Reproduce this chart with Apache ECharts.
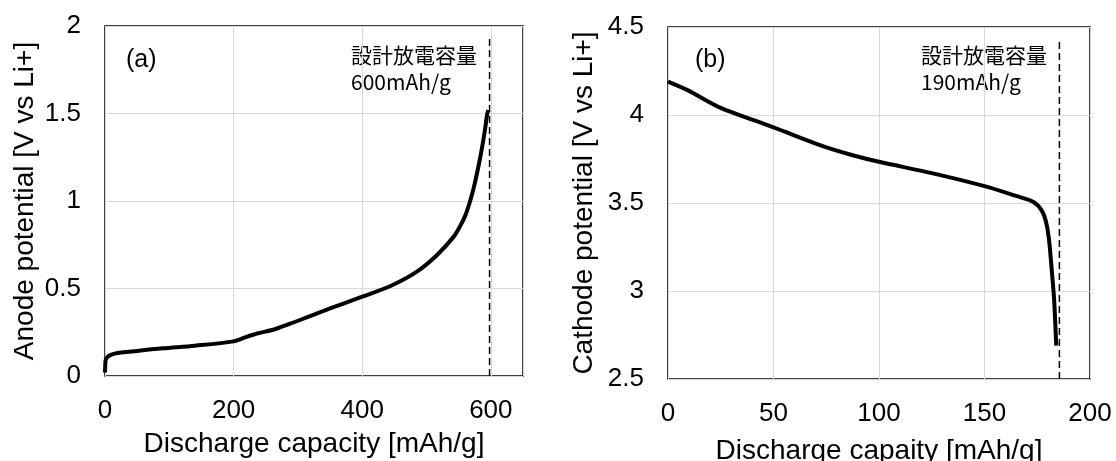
<!DOCTYPE html>
<html>
<head>
<meta charset="utf-8">
<script src="https://cdn.jsdelivr.net/npm/echarts@6/dist/echarts.min.js"></script>
<style>
    html, body { margin: 0; padding: 0; background: #fff; }
    #chart { width: 1116px; height: 461px; }
</style>
</head>
<body>
<div id="chart"></div>
<script>
    // (a) anode: discharge capacity [mAh/g] vs potential [V vs Li+]
    var anodeCapacity = [0, 0.5, 1, 3, 6, 15, 50, 90, 140, 200, 218, 238, 264, 296, 350, 400, 444, 485, 516, 542, 552, 560, 567, 573, 578, 583, 587, 591, 594, 596];
    var anodePotential = [0.02, 0.07, 0.09, 0.105, 0.115, 0.128, 0.143, 0.158, 0.173, 0.198, 0.221, 0.244, 0.267, 0.31, 0.386, 0.453, 0.514, 0.596, 0.69, 0.795, 0.855, 0.915, 0.99, 1.07, 1.15, 1.24, 1.32, 1.41, 1.49, 1.52];
    var anodeDesign = 598;      // 設計放電容量 marker line
    var anodeDesignTop = 1.93;

    // (b) cathode
    var cathodeCapacity = [0, 9.5, 25, 50, 73, 88, 100, 125, 150, 165, 173, 177, 179, 180.5, 182, 183, 183.6, 184];
    var cathodePotential = [4.19, 4.14, 4.04, 3.93, 3.825, 3.77, 3.734, 3.67, 3.596, 3.54, 3.507, 3.46, 3.40, 3.30, 3.10, 2.95, 2.80, 2.69];
    var cathodeDesign = 185.5;
    var cathodeDesignTop = 4.435;

    var latin = 'Liberation Sans, Arial, sans-serif';
    var jp = 'Noto Sans CJK JP, sans-serif';

    function zip(xs, ys) {
        return xs.map(function (x, i) { return [x, ys[i]]; });
    }

    function xAxisOf(idx, name, max, step, gap) {
        return {
            gridIndex: idx, type: 'value', min: 0, max: max, interval: step,
            name: name, nameLocation: 'middle', nameGap: gap,
            nameTextStyle: { fontFamily: latin, fontSize: 28, color: '#000' },
            axisLine: { show: false }, axisTick: { show: false },
            axisLabel: {
                fontFamily: latin, fontSize: 26, color: '#000', margin: 22,
                formatter: function (v) { return v % step === 0 ? v : ''; }
            },
            splitLine: { show: true, lineStyle: { color: '#d9d9d9', width: 1 } }
        };
    }

    function yAxisOf(idx, name, min, max, gap) {
        return {
            gridIndex: idx, type: 'value', min: min, max: max, interval: 0.5,
            name: name, nameLocation: 'middle', nameGap: gap,
            nameTextStyle: { fontFamily: latin, fontSize: 28, color: '#000' },
            axisLine: { show: false }, axisTick: { show: false },
            axisLabel: { fontFamily: latin, fontSize: 26, color: '#000', margin: 24 },
            splitLine: { show: true, lineStyle: { color: '#d9d9d9', width: 1 } }
        };
    }

    var chart = echarts.init(document.getElementById('chart'));
    var option = {
        backgroundColor: '#fff',
        animation: false,
        grid: [
            { left: 105, top: 26, width: 418, height: 350, show: true, borderColor: '#000', borderWidth: 1.5, containLabel: false, outerBoundsMode: 'none' },
            { left: 668, top: 27, width: 422, height: 352, show: true, borderColor: '#000', borderWidth: 1.5, containLabel: false, outerBoundsMode: 'none' }
        ],
        xAxis: [
            xAxisOf(0, 'Discharge capacity [mAh/g]', 650, 200, 54),
            xAxisOf(1, 'Discharge capaity [mAh/g]', 200, 50, 58)
        ],
        yAxis: [
            yAxisOf(0, 'Anode potential [V vs Li+]', 0, 2, 66),
            yAxisOf(1, 'Cathode potential [V vs Li+]', 2.5, 4.5, 70)
        ],
        series: [
            {
                type: 'line', xAxisIndex: 0, yAxisIndex: 0, symbol: 'none', smooth: 0.3,
                lineStyle: { color: '#000', width: 4 },
                data: zip(anodeCapacity, anodePotential)
            },
            {
                type: 'line', xAxisIndex: 0, yAxisIndex: 0, symbol: 'none',
                lineStyle: { color: '#000', width: 1.5, type: [7, 4] },
                data: [[anodeDesign, 0], [anodeDesign, anodeDesignTop]]
            },
            {
                type: 'line', xAxisIndex: 1, yAxisIndex: 1, symbol: 'none', smooth: 0.3,
                lineStyle: { color: '#000', width: 4 },
                data: zip(cathodeCapacity, cathodePotential)
            },
            {
                type: 'line', xAxisIndex: 1, yAxisIndex: 1, symbol: 'none',
                lineStyle: { color: '#000', width: 1.5, type: [7, 4] },
                data: [[cathodeDesign, 2.5], [cathodeDesign, cathodeDesignTop]]
            }
        ],
        graphic: [
            { type: 'text', left: 126, top: 48, style: { text: '(a)', font: '25px ' + latin, fill: '#000' } },
            { type: 'text', left: 351, top: 42, style: { text: '設計放電容量\n600mAh/g', font: '21px ' + jp, fill: '#000', lineHeight: 27 } },
            { type: 'text', left: 695, top: 48, style: { text: '(b)', font: '25px ' + latin, fill: '#000' } },
            { type: 'text', left: 921, top: 42, style: { text: '設計放電容量\n190mAh/g', font: '21px ' + jp, fill: '#000', lineHeight: 27 } }
        ]
    };
    chart.setOption(option);
    window.addEventListener('resize', function () {
        chart.resize();
    });
</script>
</body>
</html>
